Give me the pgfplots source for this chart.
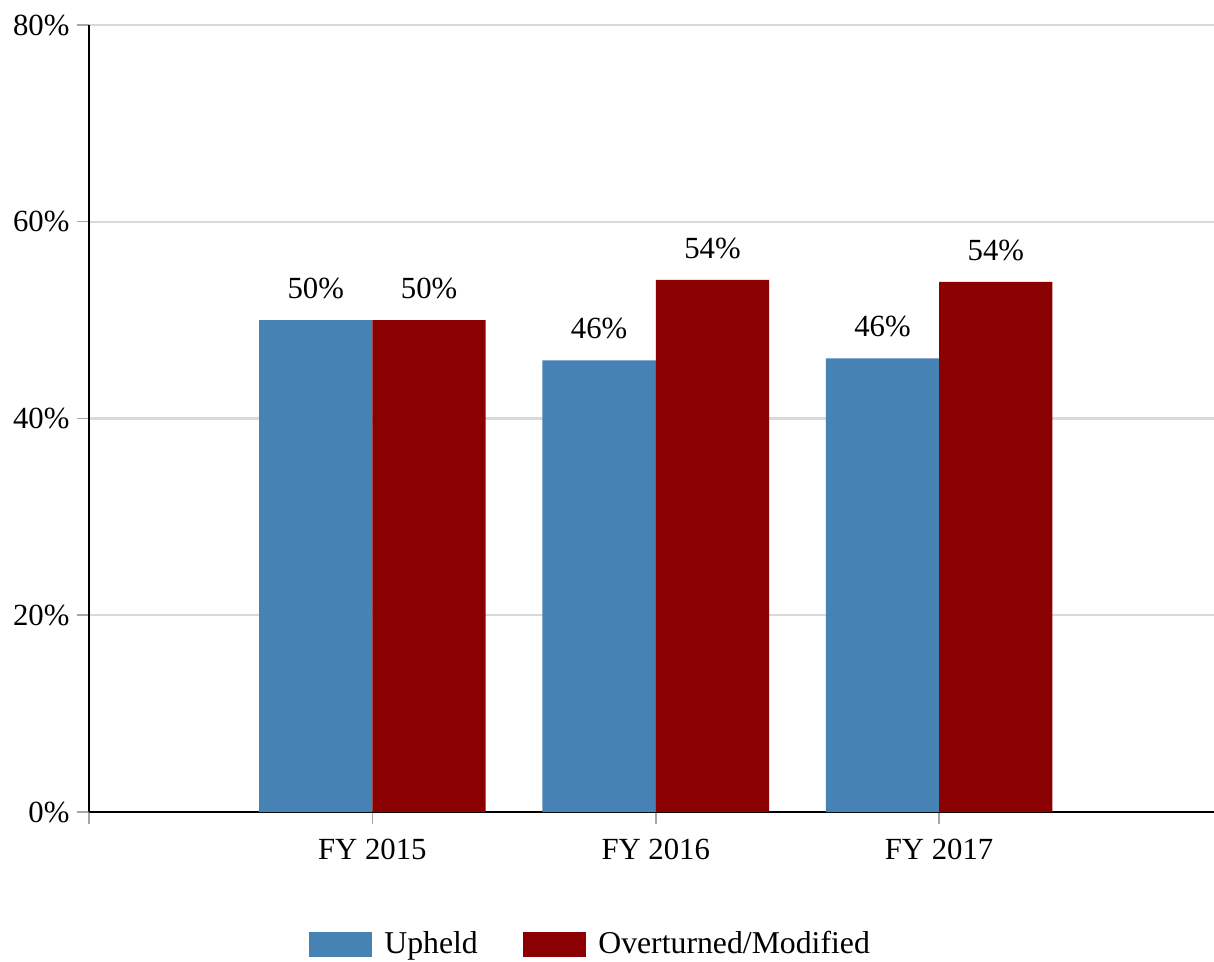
\documentclass[border=0pt]{standalone}
\usepackage{pgfplots}
\pgfplotsset{compat=1.18}
\usepackage{fontspec}
\setmainfont{Liberation Serif}
\definecolor{upheld}{HTML}{4682B4}
\definecolor{overt}{HTML}{8B0000}
\definecolor{gridc}{HTML}{D9D9D9}
\begin{document}
\begin{tikzpicture}
\begin{axis}[
  name=ax,
  scale only axis,
  width=450pt, height=314.8pt,
  xmin=-1, xmax=2.97,
  ymin=0, ymax=80,
  axis x line=bottom, axis y line=left,
  axis line style={-, black, line width=1pt},
  xtick={-1,0,1,2},
  xticklabels={,FY 2015,FY 2016,FY 2017},
  ytick={0,20,40,60,80},
  yticklabels={0\%,20\%,40\%,60\%,80\%},
  tick align=outside,
  major tick length=4.8pt,
  tick style={gray!70, line width=0.6pt},
  ymajorgrids,
  grid style={gridc, line width=0.9pt},
  tick label style={font=\fontsize{12.3}{14}\selectfont},
  yticklabel style={xshift=0.5pt},
  xticklabel style={yshift=-2.5pt},
  ybar, bar width=0.4,
  nodes near coords,
  point meta=explicit symbolic,
  every node near coord/.append style={font=\fontsize{12.3}{14}\selectfont, yshift=5pt, black},
  legend style={at={(0.447,-0.168)}, anchor=center, draw=none, fill=none,
    legend columns=2, font=\fontsize{12.7}{14}\selectfont,
    /tikz/every odd column/.append style={column sep=3pt},
    /tikz/every even column/.append style={column sep=16pt},
    nodes={inner sep=2pt}},
  legend image code/.code={\fill[#1] (0pt,-5pt) rectangle (25.2pt,5pt);},
  clip=false,
]
\addplot[fill=upheld, draw=none, bar shift=-0.2] coordinates {(0,50) [50\%] (1,45.9) [46\%] (2,46.1) [46\%]};
\addplot[fill=overt, draw=none, bar shift=0.2] coordinates {(0,50) [50\%] (1,54.1) [54\%] (2,53.9) [54\%]};
\legend{Upheld, Overturned/Modified}
\end{axis}
\pgfresetboundingbox
\path[use as bounding box] ([xshift=-35.6pt,yshift=-59.6pt]ax.south west) rectangle ([yshift=10pt]ax.north east);
\end{tikzpicture}
\end{document}
